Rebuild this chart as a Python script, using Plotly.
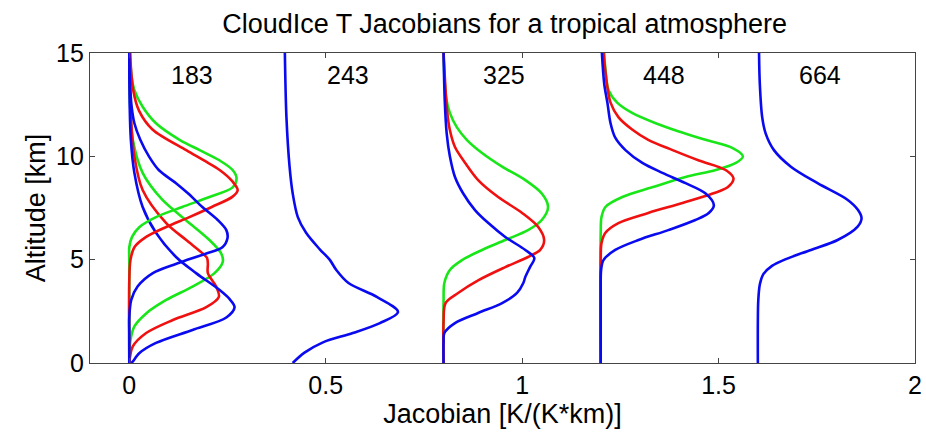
import plotly.graph_objects as go

# ---------------- data ----------------
panel_names = ["183", "243", "325", "448", "664"]
panel_offsets = [0.0, 0.4, 0.8, 1.2, 1.6]
label_x = [0.16, 0.556, 0.954, 1.36, 1.758]
label_alt = 13.93

# 183 GHz – six curves (two per colour)
alt_183_blue_a = [0, 1.5, 2.2, 3.05, 3.7, 4.35, 4.8, 5.3, 5.6, 6.05, 6.43, 6.92, 7.55, 8.2, 8.7, 9.34, 10.0, 10.8, 11.6, 12.4, 13.5, 15]
jac_183_blue_a = [0, 0, 0.0, 0.005, 0.021, 0.06, 0.12, 0.196, 0.237, 0.25, 0.247, 0.225, 0.186, 0.15, 0.119, 0.075, 0.05, 0.028, 0.013, 0.006, 0.002, 0]
alt_183_blue_b = [0, 0.05, 0.48, 0.97, 1.6, 2.2, 2.7, 3.1, 3.53, 4.35, 5.13, 6.3, 7.55, 9.2, 10.8, 12.5, 15]
jac_183_blue_b = [0.005, 0.008, 0.026, 0.068, 0.161, 0.247, 0.268, 0.255, 0.23, 0.17, 0.119, 0.068, 0.034, 0.013, 0.004, 0.001, 0]

alt_183_red_a = [0, 4.0, 4.98, 5.6, 6.1, 6.58, 7.06, 7.55, 8.05, 8.37, 8.8, 9.34, 9.8, 10.3, 11.3, 12.2, 13.2, 15]
jac_183_red_a = [0, 0, 0.003, 0.013, 0.043, 0.094, 0.153, 0.21, 0.263, 0.276, 0.262, 0.23, 0.19, 0.145, 0.059, 0.025, 0.01, 0.002]
alt_183_red_b = [0, 0.8, 1.45, 2.08, 2.7, 3.2, 3.7, 4.35, 4.8, 5.08, 5.3, 5.95, 6.77, 8.37, 10.0, 12.0, 15]
jac_183_red_b = [0.0, 0.009, 0.043, 0.111, 0.196, 0.228, 0.221, 0.2, 0.2, 0.198, 0.187, 0.145, 0.094, 0.034, 0.013, 0.004, 0.001]

alt_183_green_a = [0, 4.0, 5.0, 5.6, 6.1, 6.58, 7.06, 7.55, 8.03, 8.5, 8.95, 9.34, 9.8, 10.3, 10.8, 11.6, 12.4, 13.2, 14.0, 15]
jac_183_green_a = [0, 0, 0, 0.0, 0.007, 0.026, 0.068, 0.135, 0.204, 0.263, 0.273, 0.263, 0.23, 0.179, 0.128, 0.068, 0.034, 0.013, 0.005, 0.002]
alt_183_green_b = [0, 1.1, 1.77, 2.4, 3.05, 3.7, 4.35, 4.9, 5.3, 5.95, 6.9, 7.9, 9.2, 10.8, 12.5, 15]
jac_183_green_b = [0.0, 0.003, 0.013, 0.043, 0.094, 0.161, 0.217, 0.238, 0.234, 0.204, 0.145, 0.084, 0.034, 0.009, 0.002, 0]

# 243 GHz
alt_243_blue = [0, 0.5, 1.0, 1.45, 1.93, 2.47, 3.2, 3.87, 4.5, 5.0, 5.5, 6.3, 7.06, 8.2, 9.5, 11.9, 15]
jac_243_blue = [0.016, 0.046, 0.093, 0.169, 0.238, 0.284, 0.23, 0.158, 0.127, 0.11, 0.085, 0.05, 0.029, 0.016, 0.008, 0.0, -0.004]

# 325 GHz
alt_325_blue = [0, 1.0, 1.45, 1.93, 2.42, 2.9, 3.39, 3.87, 4.16, 4.64, 5.08, 5.47, 6.1, 6.77, 7.4, 8.2, 9.0, 10.0, 11.1, 12.7, 15]
jac_325_blue = [0, 0, 0.002, 0.029, 0.088, 0.149, 0.187, 0.203, 0.208, 0.22, 0.231, 0.208, 0.157, 0.114, 0.08, 0.05, 0.029, 0.016, 0.008, 0.003, 0]
alt_325_red = [0, 2.0, 2.9, 3.39, 4.0, 4.64, 5.13, 5.47, 5.95, 6.58, 7.26, 8.03, 8.85, 9.68, 10.45, 11.27, 12.2, 15]
jac_325_red = [0, 0, 0.005, 0.037, 0.088, 0.157, 0.215, 0.246, 0.256, 0.241, 0.2, 0.139, 0.088, 0.055, 0.029, 0.016, 0.009, 0]
alt_325_green = [0, 3.0, 3.87, 4.5, 4.98, 5.47, 5.95, 6.43, 6.92, 7.55, 8.2, 8.85, 9.5, 10.16, 10.8, 11.4, 12.1, 12.9, 15]
jac_325_green = [0, 0, 0.002, 0.016, 0.047, 0.098, 0.157, 0.215, 0.25, 0.266, 0.25, 0.208, 0.149, 0.098, 0.059, 0.034, 0.016, 0.006, 0]

# 448 GHz
alt_448_blue = [0, 3.5, 4.5, 4.98, 5.47, 5.95, 6.43, 6.92, 7.26, 7.64, 8.2, 8.7, 9.2, 9.68, 10.3, 10.9, 11.6, 12.6, 13.5, 15]
jac_448_blue = [0, 0, 0.001, 0.007, 0.037, 0.096, 0.172, 0.241, 0.275, 0.288, 0.267, 0.216, 0.157, 0.106, 0.063, 0.037, 0.025, 0.017, 0.009, 0.003]
alt_448_red = [0, 5.0, 5.8, 6.3, 6.77, 7.26, 7.74, 8.2, 8.5, 8.93, 9.34, 9.8, 10.3, 10.8, 11.3, 11.9, 12.6, 13.35, 15]
jac_448_red = [0, 0, 0.002, 0.012, 0.045, 0.121, 0.208, 0.285, 0.323, 0.338, 0.318, 0.25, 0.183, 0.121, 0.08, 0.045, 0.025, 0.017, 0.007]
alt_448_green = [0, 6.3, 7.06, 7.55, 8.03, 8.5, 9.0, 9.34, 9.68, 10.0, 10.4, 10.8, 11.2, 11.6, 12.1, 12.6, 13.2, 14.2, 15]
jac_448_green = [0, 0, 0.002, 0.012, 0.055, 0.131, 0.216, 0.293, 0.344, 0.362, 0.336, 0.267, 0.199, 0.14, 0.08, 0.042, 0.02, 0.012, 0.009]

# 664 GHz
alt_664_blue = [0, 2.0, 3.0, 3.8, 4.3, 4.7, 5.0, 5.47, 5.95, 6.6, 7.0, 7.4, 7.9, 8.7, 9.5, 10.3, 11.1, 11.9, 13.5, 15]
jac_664_blue = [0, 0, 0.001, 0.005, 0.014, 0.036, 0.068, 0.135, 0.203, 0.254, 0.264, 0.255, 0.228, 0.152, 0.084, 0.041, 0.02, 0.011, 0.005, 0.003]

BLUE = "#0a0af0"
RED = "#f01010"
GREEN = "#19e619"

curves = [
    ("183", GREEN, alt_183_green_b, jac_183_green_b),
    ("183", RED, alt_183_red_b, jac_183_red_b),
    ("183", BLUE, alt_183_blue_b, jac_183_blue_b),
    ("183", GREEN, alt_183_green_a, jac_183_green_a),
    ("183", RED, alt_183_red_a, jac_183_red_a),
    ("183", BLUE, alt_183_blue_a, jac_183_blue_a),
    ("243", BLUE, alt_243_blue, jac_243_blue),
    ("325", GREEN, alt_325_green, jac_325_green),
    ("325", RED, alt_325_red, jac_325_red),
    ("325", BLUE, alt_325_blue, jac_325_blue),
    ("448", GREEN, alt_448_green, jac_448_green),
    ("448", RED, alt_448_red, jac_448_red),
    ("448", BLUE, alt_448_blue, jac_448_blue),
    ("664", BLUE, alt_664_blue, jac_664_blue),
]

FONT = "Liberation Sans, Arial, Helvetica, sans-serif"

fig = go.Figure()
for name, color, alts, jacs in curves:
    off = panel_offsets[panel_names.index(name)]
    fig.add_trace(go.Scatter(
        x=[j + off for j in jacs], y=alts, mode="lines",
        line=dict(color=color, width=2.6, shape="spline", smoothing=0.9),
        showlegend=False, hoverinfo="skip"))

for name, lx in zip(panel_names, label_x):
    fig.add_annotation(x=lx, y=label_alt, text=name, showarrow=False,
                       font=dict(size=25, color="black", family=FONT))

axis_common = dict(showgrid=False, zeroline=False, showline=True, mirror="ticks",
                   linecolor="#444", linewidth=1.2, ticks="inside", ticklen=5,
                   tickcolor="#444", automargin=False,
                   tickfont=dict(size=25, color="black", family=FONT))

fig.update_layout(
    width=926, height=433,
    margin=dict(l=90, r=11, t=53, b=70),
    paper_bgcolor="white", plot_bgcolor="white",
    title=dict(text="CloudIce T Jacobians for a tropical atmosphere",
               x=0.545, xanchor="center", y=0.945, yanchor="middle",
               font=dict(size=27, color="black", family=FONT)),
    xaxis=dict(range=[-0.1, 2.0], tickvals=[0, 0.5, 1, 1.5, 2],
               ticktext=["0", "0.5", "1", "1.5", "2"],
               title=dict(text="Jacobian [K/(K*km)]", standoff=4,
                          font=dict(size=27, color="black", family=FONT)),
               **axis_common),
    yaxis=dict(range=[0, 15], tickvals=[0, 5, 10, 15],
               title=dict(text="Altitude [km]", standoff=2,
                          font=dict(size=27, color="black", family=FONT)),
               **axis_common),
)

fig.write_html("out.html")
